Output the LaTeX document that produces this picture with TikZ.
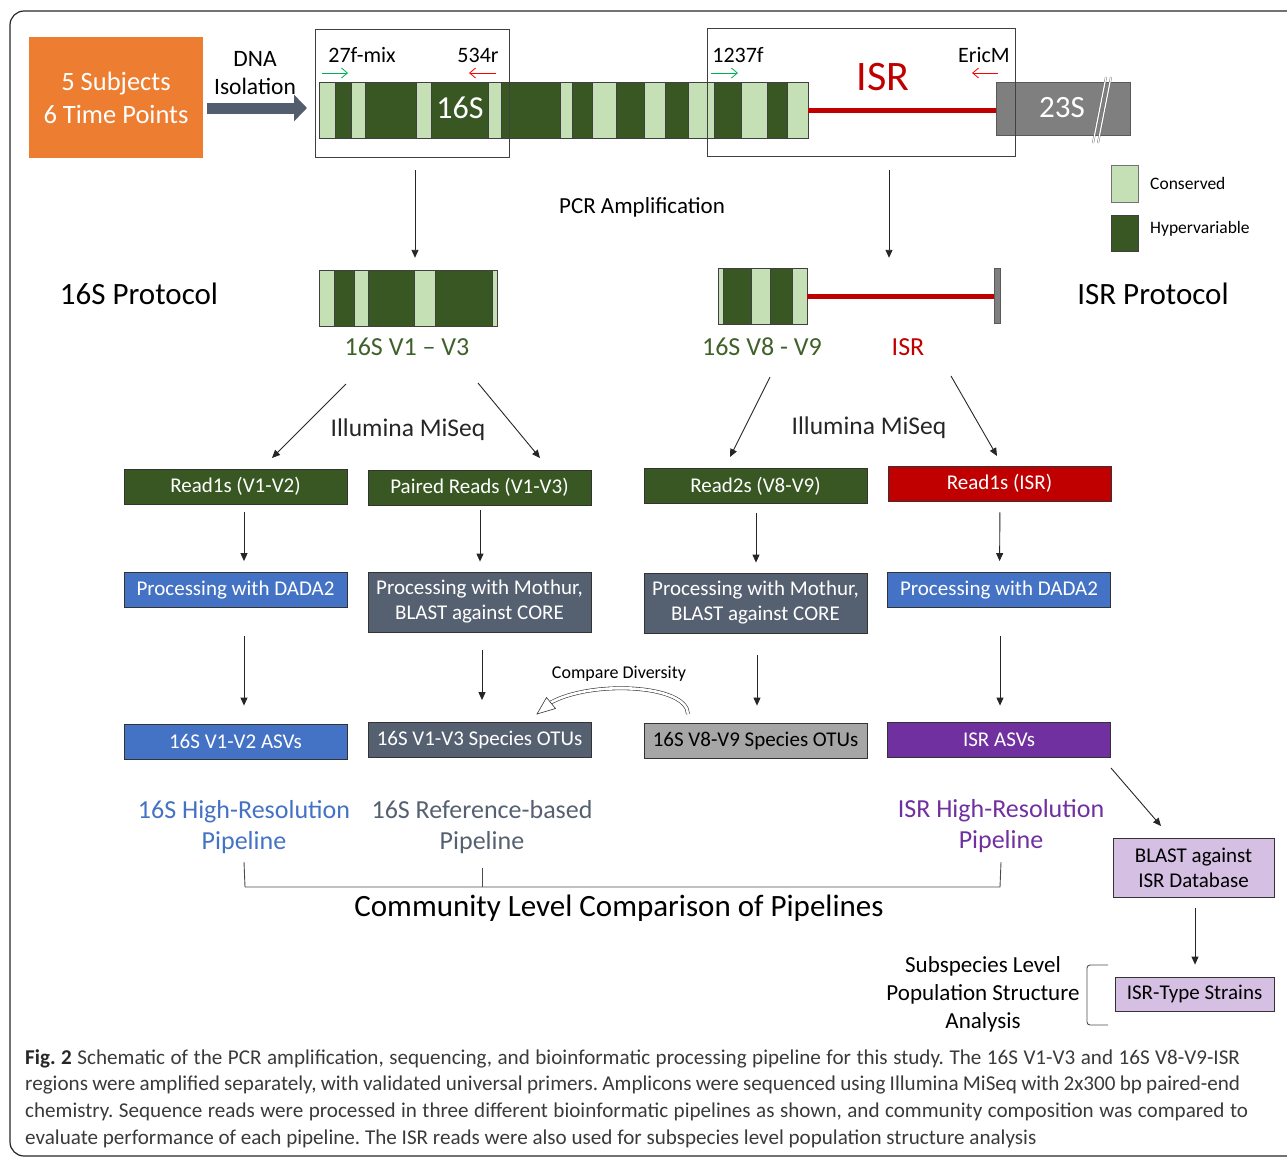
\documentclass[tikz,border=0pt]{standalone}
\usepackage{fontspec}
\setmainfont{Carlito}
\newfontfamily\capfont[FakeStretch=1.0]{Carlito}
\usetikzlibrary{arrows.meta}
\definecolor{orng}{HTML}{ED7D31}
\definecolor{ltgreen}{HTML}{C5E0B4}
\definecolor{dkgreen}{HTML}{385723}
\definecolor{txgreen}{HTML}{3E6229}
\definecolor{isrred}{HTML}{C00000}
\definecolor{pblue}{HTML}{4472C4}
\definecolor{slate}{HTML}{556070}
\definecolor{arrslate}{HTML}{525E6E}
\definecolor{ppurple}{HTML}{7030A0}
\definecolor{lav}{HTML}{D5C0E3}
\definecolor{gr23}{HTML}{7F7F7F}
\definecolor{grotu}{HTML}{A6A6A6}
\definecolor{pgreen}{HTML}{00B050}
\definecolor{pred}{HTML}{FF0000}
\definecolor{captx}{HTML}{3A3A3A}
\newcommand\fsz[2]{\fontsize{#1}{#2}\selectfont}
\frenchspacing
\begin{document}
\begin{tikzpicture}[x=1pt,y=-1pt,
  boxst/.style={draw=black!80, line width=0.8pt, minimum width=223pt, minimum height=35pt,
    inner sep=0pt, text=white, font=\fsz{21}{25}, align=center},
  arr/.style={draw=black!85, line width=0.9pt, -{Triangle[length=8pt,width=7pt]}},
  primer/.style={line width=0.8pt, -{Straight Barb[length=6pt,width=10pt]}},
  lbl/.style={inner sep=0pt, align=center},
  stripe/.style={draw=black!75, line width=0.7pt},
  frame/.style={draw=black!75, line width=0.8pt, minimum width=#1, inner sep=0pt}
]
\useasboundingbox (0,0) rectangle (1287,1157);
% outer frame
\draw[black!85, line width=1.2pt, rounded corners=14pt] (10,11) rectangle (1320,1156);

% orange box + DNA isolation
\node[fill=orng, minimum width=174pt, minimum height=121pt, inner sep=0pt, text=white,
  font=\fsz{26.5}{33}, align=center] (subj) at (116,97.5) {5 Subjects\\6 Time Points};
\node[lbl, font=\fsz{23.5}{28}] (dna) at (255,73) {DNA\\Isolation};
\coordinate (dnaS) at (207,108);
\coordinate (dnaE) at (307,108);
\draw[arrslate, line width=11pt, -{Triangle[length=13pt,width=26pt]}] (dnaS) -- (dnaE);

% long 16S bar
\node[minimum width=489pt, minimum height=56pt, inner sep=0pt] (bar16) at (563.5,110) {};
\fill[ltgreen, stripe] (319,82) rectangle (808,138);
\foreach \a/\b in {335/351,365/416,431/488,501/560,572/592,616/644,665/688,714/741,767/787}
  \filldraw[fill=dkgreen, stripe] (\a,82) rectangle (\b,138);
\node[lbl, text=white, font=\fsz{32}{34}] (s16) at (460,108) {16S};
% red ISR line and 23S
\draw[isrred, line width=5pt] (bar16.east) -- (996,110);
\node[fill=gr23, draw=black!65, line width=0.8pt, minimum width=134pt, minimum height=53pt, inner sep=0pt] (b23) at (1063,108.5) {};
\node[lbl, text=white, font=\fsz{31}{34}] (s23) at (1062,108) {23S};
\draw[draw=black!60, line width=0.4pt, double=white, double distance=1.2pt] (1093,143) -- (1106,77);
\draw[draw=black!60, line width=0.4pt, double=white, double distance=1.2pt] (1098,143) -- (1111,77);

% primer boxes
\node[frame=194pt, minimum height=128pt] (box16) at (412,93) {};
\node[frame=308pt, minimum height=128pt] (boxisr) at (861,92) {};
\node[lbl, font=\fsz{22}{26}] (t27) at (362,55) {27f-mix};
\node[lbl, font=\fsz{22}{26}] (t534) at (478,55) {534r};
\node[lbl, font=\fsz{22}{26}] (t1237) at (738,55) {1237f};
\node[lbl, font=\fsz{22}{26}] (tericm) at (984,55) {EricM};
\coordinate (g1a) at (322,73); \coordinate (g1b) at (348,73);
\coordinate (r1a) at (496,73); \coordinate (r1b) at (469,73);
\coordinate (g2a) at (711,73); \coordinate (g2b) at (738,73);
\coordinate (r2a) at (998,73); \coordinate (r2b) at (972,73);
\draw[primer, pgreen] (g1a) -- (g1b);
\draw[primer, pred] (r1a) -- (r1b);
\draw[primer, pgreen] (g2a) -- (g2b);
\draw[primer, pred] (r2a) -- (r2b);
\node[lbl, text=isrred, font=\fsz{42}{44}] (isrbig) at (883,77) {ISR};

% legend
\node[fill=ltgreen, draw=black!55, line width=0.8pt, minimum width=27pt, minimum height=37pt, inner sep=0pt] (legc) at (1124.5,183.5) {};
\node[fill=dkgreen, draw=black!75, line width=0.8pt, minimum width=27pt, minimum height=36pt, inner sep=0pt] (legh) at (1124.5,233) {};
\node[lbl, anchor=west, font=\fsz{17.5}{20}] (tcons) at (1150,183) {Conserved};
\node[lbl, anchor=west, font=\fsz{17.5}{20}] (thyp) at (1150,229) {Hypervariable};

\node[lbl, font=\fsz{23}{26}] (pcr) at (642,207) {PCR Amplification};
\node[lbl, font=\fsz{31}{34}] (p16) at (139,294) {16S Protocol};
\node[lbl, font=\fsz{31}{34}] (pisr) at (1153,294) {ISR Protocol};

% amplicon bars
\node[minimum width=178pt, minimum height=56pt, inner sep=0pt] (bar13) at (408,298) {};
\fill[ltgreen, stripe] (319,270) rectangle (497,326);
\foreach \a/\b in {334/354,368/414,435/492}
  \filldraw[fill=dkgreen, stripe] (\a,270) rectangle (\b,326);
\node[minimum width=89pt, minimum height=56pt, inner sep=0pt] (bar89) at (762.5,296) {};
\fill[ltgreen, stripe] (718,268) rectangle (807,324);
\foreach \a/\b in {723/751,770/792}
  \filldraw[fill=dkgreen, stripe] (\a,268) rectangle (\b,324);
\node[fill=gr23, draw=black!65, line width=0.6pt, minimum width=6pt, minimum height=55pt, inner sep=0pt] (endbar) at (997,296) {};
\draw[isrred, line width=5pt] (bar89.east) -- (bar89.east -| endbar.west);

% arrows from primer boxes
\draw[arr, shorten <=13pt, shorten >=12pt] ([xshift=3pt]box16.south) -- ([xshift=3pt]box16.south |- bar13.north);
\draw[arr, shorten <=14pt, shorten >=10pt] ([xshift=28pt]boxisr.south) -- ([xshift=28pt]boxisr.south |- bar89.north);

\node[lbl, text=txgreen, font=\fsz{26}{30}] (l13) at (407,347) {16S V1 – V3};
\node[lbl, text=txgreen, font=\fsz{26}{30}] (l89) at (762,347) {16S V8 - V9};
\node[lbl, text=isrred, font=\fsz{26}{30}] (lisr) at (908,347) {ISR};
\node[lbl, text=black!85, font=\fsz{25.5}{29}] (ill1) at (408,430) {Illumina MiSeq};
\node[lbl, text=black!85, font=\fsz{25.5}{29}] (ill2) at (869,428) {Illumina MiSeq};

% boxes
\node[boxst, fill=dkgreen] (read1) at (235.5,486.5) {Read1s (V1-V2)};
\node[boxst, fill=dkgreen] (paired) at (479.5,487.5) {Paired Reads (V1-V3)};
\node[boxst, fill=dkgreen] (read2) at (755.5,486) {Read2s (V8-V9)};
\node[boxst, fill=isrred] (readisr) at (999.5,483.5) {Read1s (ISR)};
\node[boxst, fill=pblue] (dada1) at (235.5,590) {Processing with DADA2};
\node[boxst, fill=slate, minimum height=60pt] (moth1) at (479.5,602) {Processing with Mothur,\\BLAST against CORE};
\node[boxst, fill=slate, minimum height=60pt] (moth2) at (755.5,603) {Processing with Mothur,\\BLAST against CORE};
\node[boxst, fill=pblue] (dada2) at (999,590) {Processing with DADA2};
\node[boxst, fill=pblue] (asv1) at (235.5,741.5) {16S V1-V2 ASVs};
\node[boxst, fill=slate] (otu1) at (479.5,740) {16S V1-V3 Species OTUs};
\node[boxst, fill=grotu, text=black] (otu2) at (755.5,740.5) {16S V8-V9 Species OTUs};
\node[boxst, fill=ppurple] (israsv) at (999,739.5) {ISR ASVs};
\node[boxst, fill=lav, text=black, minimum width=161pt, minimum height=59pt, font=\fsz{21}{25}] (blast) at (1193.5,867.5) {BLAST against\\ISR Database};
\node[boxst, fill=lav, text=black, minimum width=159pt, minimum height=34pt] (strains) at (1194.5,994) {ISR-Type Strains};

% diagonal arrows
\coordinate (d1a) at (346,384); \coordinate (d1b) at (272,458);
\coordinate (d2a) at (478,383); \coordinate (d2b) at (540,458);
\coordinate (d3a) at (770,377); \coordinate (d3b) at (730,457);
\coordinate (d4a) at (951,376); \coordinate (d4b) at (997,456);
\coordinate (d5a) at (1111,768); \coordinate (d5b) at (1161,826);
\draw[arr] (d1a) -- (d1b);
\draw[arr] (d2a) -- (d2b);
\draw[arr] (d3a) -- (d3b);
\draw[arr] (d4a) -- (d4b);
\draw[arr] (d5a) -- (d5b);

% vertical arrows
\draw[arr, shorten <=8pt, shorten >=11pt] ([xshift=8.5pt]read1.south) -- ([xshift=8.5pt]dada1.north);
\draw[arr, shorten <=28pt, shorten >=18pt] ([xshift=8.5pt]dada1.south) -- ([xshift=8.5pt]asv1.north);
\draw[arr, shorten <=5pt, shorten >=10pt] ([xshift=0.5pt]paired.south) -- ([xshift=0.5pt]moth1.north);
\draw[arr, shorten <=18pt, shorten >=22pt] ([xshift=2.5pt]moth1.south) -- ([xshift=2.5pt]otu1.north);
\draw[arr, shorten <=9pt, shorten >=10pt] ([xshift=0.5pt]read2.south) -- ([xshift=0.5pt]moth2.north);
\draw[arr, shorten <=22pt, shorten >=17pt] ([xshift=1.5pt]moth2.south) -- ([xshift=1.5pt]otu2.north);
\draw[arr, shorten <=11pt, shorten >=11pt] ([xshift=0.5pt]readisr.south) -- ([xshift=0.5pt]dada2.north);
\draw[arr, shorten <=28pt, shorten >=16pt] ([xshift=1pt]dada2.south) -- ([xshift=1pt]israsv.north);
\draw[arr, shorten <=11pt, shorten >=12pt] ([xshift=1.5pt]blast.south) -- ([xshift=0.5pt]strains.north);

% compare diversity
\node[lbl, font=\fsz{18}{21}] (cmp) at (619,674) {Compare Diversity};
\coordinate (cdS) at (688,714);
\coordinate (cdE) at (550,703);
\draw[draw=black!80, line width=0.6pt, double=white, double distance=2.6pt] (cdS) .. controls (687,684) and (590,680) .. (cdE);
\filldraw[fill=white, draw=black!80, line width=0.6pt] (537,714) -- (555.5,708.5) -- (546.5,697.5) -- cycle;

% pipeline labels
\node[lbl, text=pblue, font=\fsz{26}{31}] (pipe1) at (244,827) {16S High-Resolution\\Pipeline};
\node[lbl, text=slate, font=\fsz{26}{31}] (pipe2) at (482,827) {16S Reference-based\\Pipeline};
\node[lbl, text=ppurple, font=\fsz{26}{31}] (pipe3) at (1001,826) {ISR High-Resolution\\Pipeline};
\draw[black!70, line width=0.9pt] (pipe1.south |- 0,862) -- (245,887) -- (1000,887) -- (pipe3.south |- 0,862);
\draw[black!70, line width=0.9pt] (pipe2.south |- 0,868) -- (pipe2.south |- 0,887);
\node[lbl, font=\fsz{31}{34}] (comm) at (619,908) {Community Level Comparison of Pipelines};

% subspecies
\node[lbl, font=\fsz{23}{28}] (subsp) at (983,994) {Subspecies Level\\Population Structure\\Analysis};
\draw[black!70, line width=0.9pt, rounded corners=3pt] (1108,965) -- (1087,965) -- (1087,1025) -- (1108,1025);

% caption
\node[lbl, anchor=west, text=captx, font=\capfont\fsz{21.1}{26}] (cap1) at (25,1059) {\makebox[1215pt][s]{{\bfseries\color{black!85}Fig.\ 2} Schematic of the PCR amplification, sequencing, and bioinformatic processing pipeline for this study. The 16S V1-V3 and 16S V8-V9-ISR}};
\node[lbl, anchor=west, text=captx, font=\capfont\fsz{21.1}{26}] (cap2) at (25,1085) {\makebox[1215pt][s]{regions were amplified separately, with validated universal primers. Amplicons were sequenced using Illumina MiSeq with 2x300 bp paired-end}};
\node[lbl, anchor=west, text=captx, font=\capfont\fsz{21.1}{26}] (cap3) at (25,1112) {\makebox[1223pt][s]{chemistry. Sequence reads were processed in three different bioinformatic pipelines as shown, and community composition was compared to}};
\node[lbl, anchor=west, text=captx, font=\capfont\fsz{21.1}{26}] (cap4) at (25,1139) {evaluate performance of each pipeline. The ISR reads were also used for subspecies level population structure analysis};
\end{tikzpicture}
\end{document}
